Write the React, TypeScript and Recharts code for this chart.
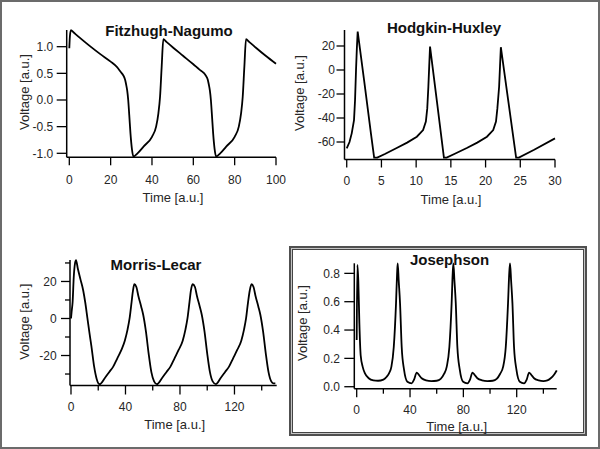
import React from 'react';
import { LineChart, Line, XAxis, YAxis } from 'recharts';

// ---------------- data ----------------
const fnTime = [
  0, 0.3, 0.8, 2, 5, 10, 15, 20, 23, 25,
  26, 27, 27.5, 28, 28.5, 29, 29.6, 30.3, 31, 33,
  36, 40, 42, 43.1, 43.9, 44.7, 45.5, 47, 50, 55,
  60, 63, 65, 66, 67, 67.5, 68, 68.5, 69, 69.6,
  70.3, 71, 73, 76, 80, 82, 83.1, 83.9, 84.7, 85.5,
  87, 90, 95, 100,
];
const fnVoltage = [
  0.97, 1.2, 1.31, 1.27, 1.17, 1.01, 0.86, 0.72, 0.62, 0.52,
  0.47, 0.38, 0.29, 0.18, 0.0, -0.28, -0.63, -0.92, -1.06, -1.0,
  -0.87, -0.69, -0.5, -0.25, 0.06, 0.63, 1.14, 1.09, 0.99, 0.83,
  0.67, 0.57, 0.51, 0.46, 0.38, 0.29, 0.18, 0.0, -0.28, -0.63,
  -0.92, -1.06, -1.0, -0.87, -0.69, -0.5, -0.25, 0.06, 0.63, 1.14,
  1.09, 0.99, 0.83, 0.68,
];

const hhTime = [
  0, 0.4, 0.72, 1.05, 1.2, 1.34, 1.46, 1.58, 2.5, 3.5,
  3.95, 4.4, 5.5, 7.2, 8.7, 10.1, 11.0, 11.4, 11.6, 11.76,
  11.88, 12.0, 13.0, 14.0, 14.4, 15.5, 17.3, 18.8, 20.2, 21.1,
  21.5, 21.7, 21.95, 22.08, 22.2, 23.3, 24.4, 24.8, 27, 30,
];
const hhVoltage = [
  -65.3, -60, -52.8, -41.7, -25, 0, 18, 32, -8.5, -53.5,
  -73, -73, -70, -65, -60.5, -55.6, -50, -43, -32, -14,
  3, 19.5, -26.5, -73, -73, -70, -65, -60.5, -55.6, -50,
  -43, -32, -14, 3, 19, -27, -73, -73, -66.5, -57,
];

const mlTime = [
  0, 0.5, 1.2, 2, 3, 3.7, 5, 7, 9, 10.5,
  12, 13.5, 15, 17, 18.8, 21, 25, 28, 31, 34,
  37, 39.5, 41.5, 43, 44.5, 45.5, 46.5, 48, 49.5, 51.5,
  53, 55, 57, 59, 61, 63, 67, 70, 73, 76,
  79, 82, 84, 85.5, 87, 88, 89.3, 91, 92.5, 94.5,
  96, 98, 100, 102, 104, 106.3, 110, 113, 116, 119,
  122, 125, 127, 128.5, 130, 131.2, 132.5, 134, 135.5, 137.5,
  139, 141, 143, 145, 147, 148.5, 150,
];
const mlVoltage = [
  0, 4, 9, 22, 30, 31.5, 27, 21, 15, 8.5,
  0.5, -7.5, -15, -26, -32.5, -35.5, -32, -29, -26, -21.5,
  -17, -12, -6, 0, 9, 15, 18.5, 17, 12, 6.5,
  2, -7, -19, -29, -34, -35.5, -32, -29, -26, -21.5,
  -17, -12, -6, 0, 9, 15, 18.5, 17, 12, 6.5,
  2, -7, -19, -29, -34, -35.5, -32, -29, -26, -21.5,
  -17, -12, -6, 0, 9, 15, 18.5, 17, 12, 6.5,
  2, -7, -19, -29, -34, -35, -35,
];

const jjTime = [
  0, 0.5, 1.2, 2, 3, 4.5, 6.2, 9, 12.5, 16,
  20, 22.5, 24.5, 26, 27.8, 29.5, 30.3, 30.75, 31.5, 32.5,
  33.75, 35.5, 38, 41.2, 43, 45, 46.5, 48.7, 52, 56,
  60, 63, 65.5, 67.5, 69.5, 71.2, 72, 72.5, 73.3, 74.3,
  75.5, 77.3, 79.8, 83, 85, 86.8, 88.3, 90.5, 94, 98,
  102, 105, 107.5, 109.8, 111.8, 113.5, 114.4, 115, 115.8, 116.8,
  118, 119.8, 122.3, 125.5, 127.5, 129.3, 130.8, 133, 136.5, 140,
  143, 145.5, 148, 150,
];
const jjVoltage = [
  0.33, 0.86, 0.75, 0.45, 0.22, 0.14, 0.094, 0.06, 0.045, 0.042,
  0.05, 0.07, 0.1, 0.14, 0.28, 0.59, 0.8, 0.87, 0.75, 0.59,
  0.28, 0.12, 0.035, 0.024, 0.05, 0.1, 0.085, 0.06, 0.045, 0.04,
  0.042, 0.055, 0.09, 0.14, 0.28, 0.59, 0.8, 0.87, 0.75, 0.59,
  0.28, 0.12, 0.035, 0.024, 0.05, 0.1, 0.085, 0.06, 0.045, 0.04,
  0.042, 0.055, 0.09, 0.14, 0.28, 0.59, 0.8, 0.87, 0.75, 0.59,
  0.28, 0.12, 0.035, 0.024, 0.05, 0.1, 0.085, 0.06, 0.045, 0.04,
  0.045, 0.06, 0.085, 0.115,
];

// tick values and labelled ticks
const fnXTicks = [0, 20, 40, 60, 80, 100];
const fnYTicks = [-1, -0.5, 0, 0.5, 1];
const hhXTicks = [0, 5, 10, 15, 20, 25, 30];
const hhYTicks = [-60, -40, -20, 0, 20];
const mlXTicks = [0, 20, 40, 60, 80, 100, 120, 140];
const mlXLabels = [0, 40, 80, 120];
const mlYTicks = [-30, -20, -10, 0, 10, 20, 30];
const mlYLabels = [-20, 0, 20];
const jjXTicks = [0, 20, 40, 60, 80, 100, 120, 140];
const jjXLabels = [0, 40, 80, 120];
const jjYTicks = [0, 0.2, 0.4, 0.6, 0.8];

const titles = ['Fitzhugh-Nagumo', 'Hodgkin-Huxley', 'Morris-Lecar', 'Josephson'];
const xTitle = 'Time [a.u.]';
const yTitle = 'Voltage [a.u.]';

const zip = (t: number[], v: number[]) => t.map((x, i) => ({ t: x, v: v[i] }));

// ---------------- styling ----------------
const FONT = '"Liberation Sans", Arial, Helvetica, sans-serif';
const TEXT = '#262626';
const AXW = 40;
const AXH = 30;

type Panel = {
  data: { t: number; v: number }[];
  plot: { left: number; right: number; top: number; bottom: number };
  xDomain: [number, number];
  yDomain: [number, number];
  xTicks: number[];
  xLabels: number[];
  yTicks: number[];
  yLabels: number[];
  yFmt: (v: number) => string;
  xLen: number;
  yLen: number;
  yGap: number;
  xGap: number;
  curve: 'monotone' | 'linear';
  title: string;
  titlePos: [number, number];
  xTitlePos: [number, number];
  yTitlePos: [number, number];
};

const panels: Panel[] = [
  {
    data: zip(fnTime, fnVoltage),
    plot: { left: 66.7, right: 276, top: 30, bottom: 157.3 },
    xDomain: [-1.26, 100],
    yDomain: [-1.075, 1.313],
    xTicks: fnXTicks,
    xLabels: fnXTicks,
    yTicks: fnYTicks,
    yLabels: fnYTicks,
    yFmt: (v) => v.toFixed(1),
    xLen: 8,
    yLen: 10,
    yGap: 13.4,
    xGap: 17.7,
    curve: 'monotone',
    title: titles[0],
    titlePos: [169, 35.7],
    xTitlePos: [173, 201.6],
    yTitlePos: [24.3, 92],
  },
  {
    data: zip(hhTime, hhVoltage),
    plot: { left: 344.5, right: 555, top: 30, bottom: 159.5 },
    xDomain: [-0.32, 30],
    yDomain: [-74.58, 33.33],
    xTicks: hhXTicks,
    xLabels: hhXTicks,
    yTicks: hhYTicks,
    yLabels: hhYTicks,
    yFmt: (v) => String(v),
    xLen: 8,
    yLen: 8,
    yGap: 9.5,
    xGap: 17.2,
    curve: 'linear',
    title: titles[1],
    titlePos: [444, 33.4],
    xTitlePos: [451, 203.6],
    yTitlePos: [299, 93],
  },
  {
    data: zip(mlTime, mlVoltage),
    plot: { left: 70, right: 276.7, top: 260, bottom: 385.5 },
    xDomain: [-0.73, 151],
    yDomain: [-36.2, 31.6],
    xTicks: mlXTicks,
    xLabels: mlXLabels,
    yTicks: mlYTicks,
    yLabels: mlYLabels,
    yFmt: (v) => String(v),
    xLen: 9,
    yLen: 9,
    yGap: 13.3,
    xGap: 17.2,
    curve: 'monotone',
    title: titles[2],
    titlePos: [156, 270],
    xTitlePos: [174.7, 428.6],
    yTitlePos: [24.3, 321.7],
  },
  {
    data: zip(jjTime, jjVoltage),
    plot: { left: 354.3, right: 556.7, top: 263.3, bottom: 388.7 },
    xDomain: [-1.8, 150],
    yDomain: [-0.014, 0.871],
    xTicks: jjXTicks,
    xLabels: jjXLabels,
    yTicks: jjYTicks,
    yLabels: jjYTicks,
    yFmt: (v) => v.toFixed(1),
    xLen: 8.5,
    yLen: 10,
    yGap: 14.3,
    xGap: 17,
    curve: 'monotone',
    title: titles[3],
    titlePos: [449.5, 265],
    xTitlePos: [456.7, 431],
    yTitlePos: [302.7, 323],
  },
];

const MINOR = 5;

function PanelChart({ p }: { p: Panel }) {
  const xTick = (props: any) => {
    const { x, y, payload } = props;
    const val = payload.value;
    const major = p.xLabels.includes(val);
    return (
      <g>
        <line x1={x} x2={x} y1={y} y2={y + (major ? p.xLen : MINOR)} stroke="#000" strokeWidth={1.3} />
        {major && (
          <text x={x} y={y + p.xGap + 8.6} textAnchor="middle" fontFamily={FONT} fontSize={12} fill={TEXT}>
            {String(val)}
          </text>
        )}
      </g>
    );
  };
  const yTick = (props: any) => {
    const { x, y, payload } = props;
    const val = payload.value;
    const major = p.yLabels.includes(val);
    return (
      <g>
        <line x1={x - (major ? p.yLen : MINOR)} x2={x} y1={y} y2={y} stroke="#000" strokeWidth={1.3} />
        {major && (
          <text x={x - p.yGap} y={y} dy="0.35em" textAnchor="end" fontFamily={FONT} fontSize={12} fill={TEXT}>
            {p.yFmt(val)}
          </text>
        )}
      </g>
    );
  };
  return (
    <div style={{ position: 'absolute', left: 0, top: 0 }}>
      <LineChart
        width={600}
        height={449}
        data={p.data}
        margin={{
          top: p.plot.top,
          left: p.plot.left - AXW,
          right: 600 - p.plot.right,
          bottom: 449 - p.plot.bottom - AXH,
        }}
      >
        <XAxis
          type="number"
          dataKey="t"
          domain={p.xDomain}
          ticks={p.xTicks}
          interval={0}
          height={AXH}
          tickLine={false}
          tickSize={0}
          tickMargin={0}
          tick={xTick}
          axisLine={{ stroke: '#000', strokeWidth: 1.5 }}
        />
        <YAxis
          type="number"
          dataKey="v"
          domain={p.yDomain}
          ticks={p.yTicks}
          interval={0}
          width={AXW}
          tickLine={false}
          tickSize={0}
          tickMargin={0}
          tick={yTick}
          axisLine={{ stroke: '#000', strokeWidth: 1.5 }}
        />
        <Line
          type={p.curve}
          dataKey="v"
          stroke="#000"
          strokeWidth={1.8}
          dot={false}
          activeDot={false}
          isAnimationActive={false}
        />
        <text x={p.titlePos[0]} y={p.titlePos[1]} textAnchor="middle" fontFamily={FONT} fontSize={15} fontWeight="bold" fill="#111">
          {p.title}
        </text>
        <text x={p.xTitlePos[0]} y={p.xTitlePos[1]} textAnchor="middle" fontFamily={FONT} fontSize={13} fill={TEXT}>
          {xTitle}
        </text>
        <text
          x={0}
          y={0}
          dy="0.35em"
          textAnchor="middle"
          fontFamily={FONT}
          fontSize={13}
          fill={TEXT}
          transform={`translate(${p.yTitlePos[0]},${p.yTitlePos[1]}) rotate(-90)`}
        >
          {yTitle}
        </text>
      </LineChart>
    </div>
  );
}

export default function App() {
  return (
    <div style={{ position: 'absolute', left: 0, top: 0, width: 600, height: 449, background: '#fff', overflow: 'hidden' }}>
      <div
        style={{
          position: 'absolute',
          left: 0,
          top: 0,
          width: 600,
          height: 449,
          boxSizing: 'border-box',
          border: '2px solid #6b6b6b',
        }}
      />
      <div
        style={{
          position: 'absolute',
          left: 289,
          top: 246,
          width: 298,
          height: 190,
          boxSizing: 'border-box',
          border: '2px solid #505050',
          background: '#c4c4c4',
        }}
      >
        <div
          style={{
            position: 'absolute',
            left: 1,
            top: 1,
            right: 1,
            bottom: 1,
            boxSizing: 'border-box',
            border: '1px solid #444',
            background: '#fff',
          }}
        />
      </div>
      {panels.map((p, i) => (
        <PanelChart key={i} p={p} />
      ))}
    </div>
  );
}
